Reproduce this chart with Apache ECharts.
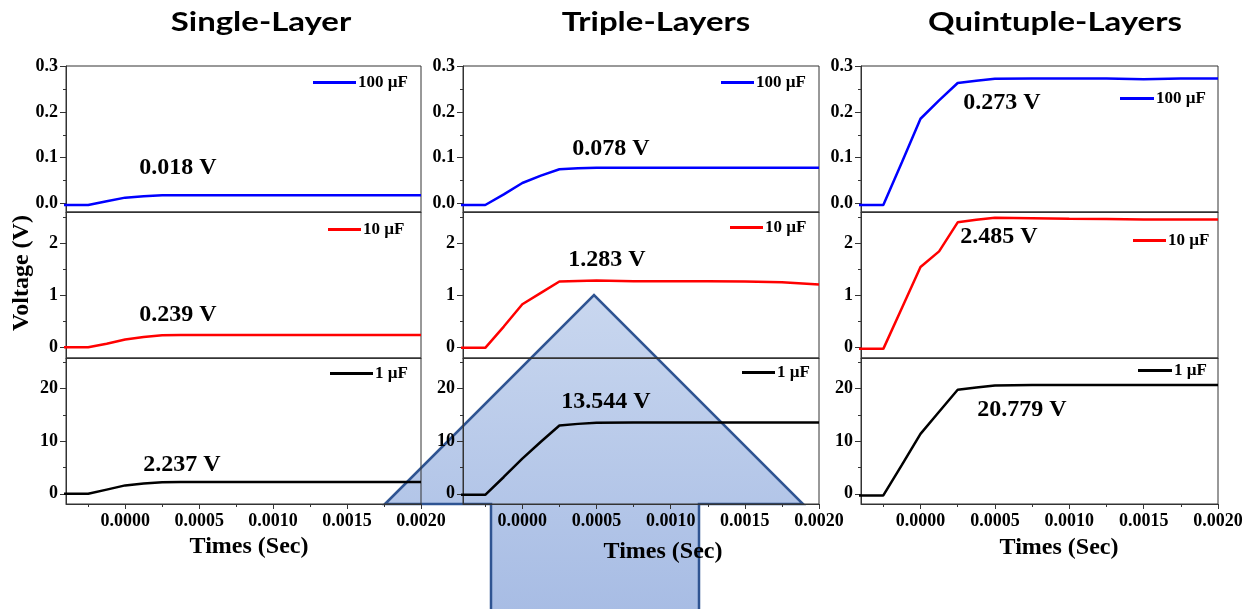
<!DOCTYPE html>
<html>
<head>
<meta charset="utf-8">
<script src="https://cdn.jsdelivr.net/npm/echarts@6/dist/echarts.min.js"></script>
<style>
html, body { margin: 0; padding: 0; background: #fff; }
#chart { width: 1253px; height: 609px; }
</style>
</head>
<body>
<div id="chart"></div>
<script>
// sample times (s)
const times = [-0.0005, -0.00025, -0.000125, 0, 0.000125, 0.00025, 0.000375, 0.0005, 0.00075, 0.001, 0.00125, 0.0015, 0.00175, 0.002]

// voltage readings (V)
const single100 = [-0.003, -0.003, 0.005, 0.013, 0.016, 0.018, 0.018, 0.018, 0.018, 0.018, 0.018, 0.018, 0.018, 0.018]
const single10 = [0, 0, 0.07, 0.15, 0.2, 0.232, 0.239, 0.239, 0.239, 0.239, 0.239, 0.239, 0.239, 0.239]
const single1 = [0, 0, 0.8, 1.6, 1.95, 2.2, 2.237, 2.237, 2.237, 2.237, 2.237, 2.237, 2.237, 2.237]
const triple100 = [-0.003, -0.003, 0.02, 0.045, 0.061, 0.075, 0.077, 0.078, 0.078, 0.078, 0.078, 0.078, 0.078, 0.078]
const triple10 = [-0.01, -0.01, 0.4, 0.83, 1.05, 1.27, 1.28, 1.29, 1.275, 1.275, 1.275, 1.27, 1.255, 1.21]
const triple1 = [-0.2, -0.2, 3.2, 6.7, 9.9, 13.0, 13.3, 13.5, 13.544, 13.544, 13.544, 13.544, 13.544, 13.544]
const quint100 = [-0.003, -0.003, 0.09, 0.185, 0.225, 0.263, 0.268, 0.272, 0.273, 0.273, 0.273, 0.271, 0.273, 0.273]
const quint10 = [-0.03, -0.03, 0.76, 1.55, 1.85, 2.41, 2.46, 2.5, 2.49, 2.48, 2.475, 2.465, 2.465, 2.465]
const quint1 = [-0.3, -0.3, 5.5, 11.4, 15.6, 19.8, 20.2, 20.6, 20.7, 20.7, 20.7, 20.7, 20.7, 20.7]

const columnTitles = ['Single-Layer', 'Triple-Layers', 'Quintuple-Layers']
const capNames = ['100 µF', '10 µF', '1 µF']
const plateauLabels = [
  ['0.018 V', '0.239 V', '2.237 V'],
  ['0.078 V', '1.283 V', '13.544 V'],
  ['0.273 V', '2.485 V', '20.779 V']
]
const xTicks = [0, 0.0005, 0.001, 0.0015, 0.002]
const xMinor = [-0.00025, 0.00025, 0.00075, 0.00125, 0.00175]
const yTicks = [[0, 0.1, 0.2, 0.3], [0, 1, 2], [0, 10, 20]]
const yMinor = [[0.05, 0.15, 0.25], [0.5, 1.5, 2.5], [5, 15, 25]]
const yDigits = [1, 0, 0]

const values = [
  [single100, single10, single1],
  [triple100, triple10, triple1],
  [quint100, quint10, quint1]
]
const lineColors = ['#0000ff', '#ff0000', '#000000']

// layout
const serif = "'Liberation Serif', 'Times New Roman', serif"
const colLeft = [66, 463, 861]
const colWidth = [355, 356, 357]
const rowTop = [66, 212, 358]
const rowHeight = 146
const yRange = [[-0.0183, 0.3], [-0.206, 2.609], [-1.94, 25.83]]
const legendPos = [
  [[313, 83, 43], [328, 230, 33], [330, 374, 43]],
  [[721, 83, 33], [730, 228, 33], [742, 373, 33]],
  [[1120, 99, 34], [1133, 241, 33], [1138, 371, 34]]
]
const labelPos = [
  [[178, 168], [178, 315], [182, 465]],
  [[611, 149], [607, 260], [606, 402]],
  [[1002, 103], [999, 237], [1022, 410]]
]
const titlePos = [[261, 22], [656, 22], [1055, 22]]
const xNamePos = [[249, 547], [663, 552], [1059, 548]]

const grid = []
const xAxis = []
const yAxis = []
const series = []
const legend = []
const graphic = []

const axisColor = '#333'
const labelStyle = { fontFamily: serif, fontWeight: 'bold', fontSize: 18, color: '#000' }

for (let c = 0; c < 3; c++) {
  for (let r = 0; r < 3; r++) {
    const g = grid.length
    const bottom = r === 2
    grid.push({
      left: colLeft[c], top: rowTop[r], width: colWidth[c], height: rowHeight,
      show: true, borderColor: axisColor, borderWidth: 1, backgroundColor: 'transparent',
      outerBoundsMode: 'none'
    })
    const xi = xAxis.length
    xAxis.push({
      type: 'value', gridIndex: g, min: -0.0004, max: 0.002, position: 'bottom',
      splitLine: { show: false },
      axisLine: { show: true, onZero: false, lineStyle: { color: axisColor, width: 1 } },
      axisTick: { show: bottom, customValues: xTicks, length: 5, lineStyle: { color: axisColor } },
      axisLabel: {
        show: bottom, customValues: xTicks, margin: 8, ...labelStyle,
        formatter: v => v.toFixed(4)
      }
    })
    if (bottom) {
      xAxis.push({
        type: 'value', gridIndex: g, min: -0.0004, max: 0.002, position: 'bottom',
        splitLine: { show: false }, axisLine: { show: false, onZero: false }, axisLabel: { show: false },
        axisTick: { show: true, customValues: xMinor, length: 3, lineStyle: { color: axisColor } }
      })
    }
    const yi = yAxis.length
    yAxis.push({
      type: 'value', gridIndex: g, min: yRange[r][0], max: yRange[r][1], position: 'left',
      splitLine: { show: false },
      axisLine: { show: true, onZero: false, lineStyle: { color: axisColor, width: 1 } },
      axisTick: { show: true, customValues: yTicks[r], length: 6, lineStyle: { color: axisColor } },
      axisLabel: {
        customValues: yTicks[r], margin: 8, ...labelStyle,
        formatter: v => v.toFixed(yDigits[r])
      }
    })
    yAxis.push({
      type: 'value', gridIndex: g, min: yRange[r][0], max: yRange[r][1], position: 'left',
      splitLine: { show: false }, axisLine: { show: false, onZero: false }, axisLabel: { show: false },
      axisTick: { show: true, customValues: yMinor[r], length: 3, lineStyle: { color: axisColor } }
    })
    series.push({
      type: 'line',
      name: capNames[r],
      xAxisIndex: xi,
      yAxisIndex: yi,
      data: times.map((t, k) => [t, values[c][r][k]]),
      symbol: 'none',
      clip: true,
      lineStyle: { color: lineColors[r], width: 2.5 },
      itemStyle: { color: lineColors[r] }
    })
    const lp = legendPos[c][r]
    legend.push({
      data: [capNames[r]], left: lp[0], top: lp[1] - 9, padding: 0,
      icon: 'rect', itemWidth: lp[2], itemHeight: 3, selectedMode: false,
      textStyle: { ...labelStyle, fontSize: 17, padding: [0, 0, 0, -3] }
    })
    graphic.push({
      type: 'text', x: labelPos[c][r][0], y: labelPos[c][r][1], z: 100,
      style: {
        text: plateauLabels[c][r], fill: '#000', align: 'center', verticalAlign: 'middle',
        font: 'bold 24px ' + serif
      }
    })
  }
  graphic.push({
    type: 'text', x: titlePos[c][0], y: titlePos[c][1], z: 100, scaleX: 1.22,
    style: {
      text: columnTitles[c], fill: '#000', align: 'center', verticalAlign: 'middle',
      font: 'bold 27px Lato, Carlito, sans-serif'
    }
  })
  graphic.push({
    type: 'text', x: xNamePos[c][0], y: xNamePos[c][1], z: 100,
    style: {
      text: 'Times (Sec)', fill: '#000', align: 'center', verticalAlign: 'middle',
      font: 'bold 24px ' + serif
    }
  })
}

graphic.push({
  type: 'text', x: 22, y: 273, rotation: Math.PI / 2, z: 100,
  style: {
    text: 'Voltage (V)', fill: '#000', align: 'center', verticalAlign: 'middle',
    font: 'bold 24px ' + serif
  }
})

// big arrow behind the middle column
graphic.push({
  type: 'polygon', z: -10,
  shape: { points: [[385, 504], [594, 295], [803, 504], [699, 504], [699, 615], [491, 615], [491, 504]] },
  style: {
    fill: {
      type: 'linear', x: 0, y: 0, x2: 0, y2: 1,
      colorStops: [{ offset: 0, color: '#c9d7ef' }, { offset: 1, color: '#a7bce4' }]
    },
    stroke: '#2f5492', lineWidth: 2.5
  }
})

const chart = echarts.init(document.getElementById('chart'))
chart.setOption({
  animation: false,
  backgroundColor: '#fff',
  grid, xAxis, yAxis, series, legend, graphic
})
</script>
</body>
</html>
